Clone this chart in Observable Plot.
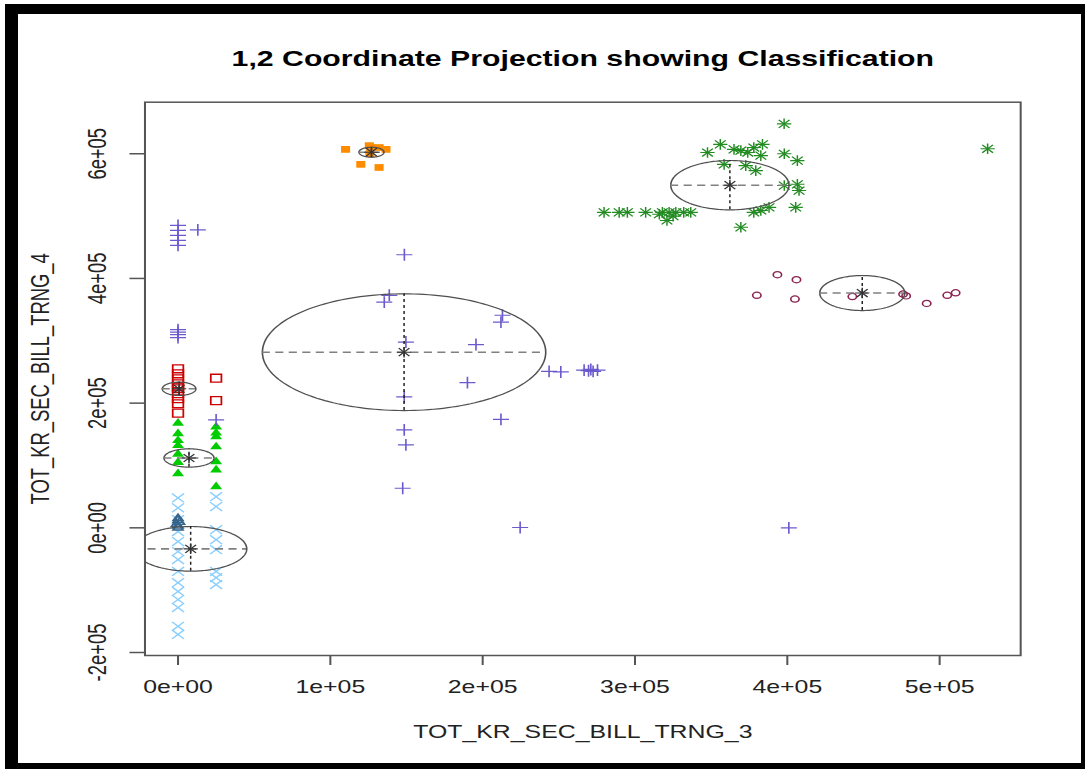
<!DOCTYPE html>
<html>
<head>
<meta charset="utf-8">
<script src="https://cdn.jsdelivr.net/npm/d3@7"></script>
<script src="https://cdn.jsdelivr.net/npm/@observablehq/plot@0.6"></script>
<style>
  html, body { margin: 0; padding: 0; background: #fff; }
  #wrap { position: relative; width: 1086px; height: 769px; overflow: hidden; background: #fff; }
  #border { position: absolute; left: 5px; top: 4px; width: 1080px; height: 765px; box-sizing: border-box;
            border-style: solid; border-color: #000; border-width: 10px 4px 6px 13px; pointer-events: none; }
</style>
</head>
<body>
<div id="wrap"><div id="chart"></div><div id="border"></div></div>
<script>
// ---------- text ----------
const mainTitle = "1,2 Coordinate Projection showing Classification";
const xTitle = "TOT_KR_SEC_BILL_TRNG_3";
const yTitle = "TOT_KR_SEC_BILL_TRNG_4";
const xTicks = [0, 100000, 200000, 300000, 400000, 500000];
const xTickLabels = ["0e+00", "1e+05", "2e+05", "3e+05", "4e+05", "5e+05"];
const yTicks = [-200000, 0, 200000, 400000, 600000];
const yTickLabels = ["-2e+05", "0e+00", "2e+05", "4e+05", "6e+05"];

// ---------- data (per classification group) ----------
// group 2: red3 open squares
const redX = [0, 0, 0, 0, 0, 0, 0, 0, 0, 0, 25000, 25000];
const redY = [255000, 247000, 239000, 231000, 226000, 223000, 215000, 207000, 199000, 184000, 240000, 204000];
// group 3: green3 filled triangles
const greenX = [0, 0, 0, 0, 0, 0, 0, 25000, 25000, 25000, 25000, 25000, 25000, 25000];
const greenY = [168000, 151000, 140000, 132000, 118000, 105000, 87000, 162000, 152000, 146000, 130000, 106000, 93000, 66000];
// group 4: slateblue plus
const slateX = [0, 0, 0, 0, 0, 13000, 0, 0, 0, 0, 25000, 148600, 138700, 135400, 213000, 212000, 149600, 195600,
                243600, 251300, 266600, 269500, 271000, 272500, 275400, 190000, 148500, 212000, 148500, 149600,
                147500, 224600, 401000];
const slateY = [485000, 477000, 469000, 461000, 453000, 478000, 318000, 314000, 310000, 305000, 173000, 438000,
                373000, 362000, 341000, 330000, 298000, 294000, 251000, 250000, 253000, 252000, 254000, 251000,
                253000, 233000, 210000, 174000, 157000, 133000, 63500, 500, 0];
// group 5: darkorange filled squares
const orangeX = [110000, 125600, 126600, 132000, 136500, 120000, 132000, 126000];
const orangeY = [607000, 613000, 610000, 610000, 607000, 583000, 578000, 600000];
// group 6: skyblue1 crosses
const skyX = [0, 0, 0, 0, 0, 0, 0, 0, 0, 0, 0, 0, 0, 0, 25000, 25000, 25000, 25000, 25000, 25000, 25000, 25000];
const skyY = [48000, 32000, 13000, -6000, -22000, -38000, -51000, -70000, -88000, -102000, -115000, -128000,
              -158000, -171000, 50000, 34000, -3000, -19000, -35000, -70000, -80000, -91000];
// group 7: violetred4 open circles
const violetX = [380000, 393500, 406000, 405000, 442700, 476000, 478000, 491500, 505000, 510500];
const violetY = [373000, 406000, 398000, 367000, 371000, 375000, 372000, 360000, 373000, 377000];
// group 8: forestgreen asterisks
const forestX = [397900, 347600, 356000, 365000, 369500, 374000, 378000, 383700, 382600, 358500, 372700, 379300,
                 398000, 406600, 398000, 406600, 407700, 405500, 388000, 382600, 378000, 369500, 279700, 289600,
                 295000, 307000, 318000, 322400, 326800, 332000, 336600, 321000, 316000, 325000, 531500];
const forestY = [648000, 602000, 615000, 607000, 605000, 602000, 610000, 615000, 597000, 583000, 581000, 573000,
                 600000, 589000, 549000, 551000, 541000, 514000, 514000, 509000, 506000, 482000, 506000, 506000,
                 506000, 506000, 506000, 506000, 506000, 506000, 506000, 493000, 503000, 500000, 608000];
// group 9: steelblue4 open triangles
const steelX = [0, 0, -1000, 1000, 0, 0];
const steelY = [0, 3000, 6000, 9000, 12000, 15000];

// ---------- fitted components (mean and axis half-lengths) ----------
const compName = ["slateblue", "darkorange", "forestgreen", "violetred4", "red3", "green3", "skyblue1"];
const compCX = [148400, 127000, 362300, 449200, 700, 7200, 8300];
const compCY = [281700, 602500, 549600, 376600, 223000, 112000, -33700];
const compRX = [93000, 8200, 38800, 27900, 11000, 16400, 36800];
const compRY = [93600, 8000, 39600, 28100, 10700, 14700, 35800];

// ---------- build ----------
const W = 804, H = 769, OUT_W = 1086;
const S = OUT_W / W;
const pts = (xs, ys) => xs.map((x, i) => ({x, y: ys[i]}));
const comps = compName.map((n, i) => ({n, cx: compCX[i], cy: compCY[i], rx: compRX[i], ry: compRY[i]}));
const ellipsePts = comps.flatMap(c => d3.range(0, 361, 2).map(a => ({
  n: c.n,
  x: c.cx + c.rx * Math.cos(a * Math.PI / 180),
  y: c.cy + c.ry * Math.sin(a * Math.PI / 180)
})));

const font = "'Liberation Sans', Arial, Helvetica, sans-serif";
const txt = "#222";

const svg = Plot.plot({
  width: W,
  height: H,
  marginLeft: 144.3 / S,
  marginRight: W - 1020 / S,
  marginTop: 101.7,
  marginBottom: 114,
  x: {domain: [-21700, 553200]},
  y: {domain: [-204800, 682700]},
  style: {fontFamily: font, background: "white", color: txt},
  marks: [
    Plot.axisX({ticks: xTicks, tickSize: 10, tickFormat: () => "", stroke: "#555", strokeWidth: 1.5, label: null}),
    Plot.axisY({ticks: yTicks, tickSize: 11, tickFormat: () => "", stroke: "#555", strokeWidth: 1.5, label: null}),
    Plot.text(xTicks, {x: d => d, text: (d, i) => xTickLabels[i], frameAnchor: "bottom", dy: 32,
      textAnchor: "middle", lineAnchor: "middle", fontSize: 18.4, fill: txt}),
    Plot.text(yTicks, {y: d => d, text: (d, i) => yTickLabels[i], frameAnchor: "left", dx: -35, rotate: -90,
      textAnchor: "middle", lineAnchor: "middle", fontSize: 18.4, fill: txt}),
    Plot.text([xTitle], {text: d => d, frameAnchor: "bottom", dy: 77, textAnchor: "middle", lineAnchor: "middle",
      fontSize: 18.4, fill: txt}),
    Plot.text([yTitle], {text: d => d, frameAnchor: "left", dx: -77, rotate: -90, textAnchor: "middle",
      lineAnchor: "middle", fontSize: 18.4, fill: txt}),
    Plot.text([mainTitle], {text: d => d, frameAnchor: "top", dy: -43, textAnchor: "middle", lineAnchor: "middle",
      fontSize: 22.4, fontWeight: "bold", fill: "#000"}),

    // points
    Plot.dot(pts(skyX, skyY), {x: "x", y: "y", symbol: "times", r: 4.1, stroke: "#87CEFF", fill: "none", strokeWidth: 1.2}),
    Plot.dot(pts(steelX, steelY), {x: "x", y: "y", symbol: "triangle2", r: 3.6, stroke: "#36648B", fill: "none", strokeWidth: 1.3}),
    Plot.dot(pts(greenX, greenY), {x: "x", y: "y", symbol: "triangle", r: 3.3, fill: "#00CD00", stroke: "none"}),
    Plot.dot(pts(redX, redY), {x: "x", y: "y", symbol: "square2", r: 5, stroke: "#CD0000", fill: "none", strokeWidth: 1.3}),
    Plot.dot(pts(slateX, slateY), {x: "x", y: "y", symbol: "plus", r: 3.9, stroke: "#6A5ACD", fill: "none", strokeWidth: 1.2}),
    Plot.dot(pts(orangeX, orangeY), {x: "x", y: "y", symbol: "square", r: 3.8, fill: "#FF8C00", stroke: "none"}),
    Plot.dot(pts(violetX, violetY), {x: "x", y: "y", symbol: "circle", r: 3.1, stroke: "#8B2252", fill: "none", strokeWidth: 1.2}),
    Plot.dot(pts(forestX, forestY), {x: "x", y: "y", symbol: "plus", r: 3.5, stroke: "#228B22", fill: "none", strokeWidth: 1.1}),
    Plot.dot(pts(forestX, forestY), {x: "x", y: "y", symbol: "times", r: 3.7, stroke: "#228B22", fill: "none", strokeWidth: 1.1}),

    // component ellipses with axes and means
    Plot.line(ellipsePts, {x: "x", y: "y", z: "n", stroke: "#505050", strokeWidth: 1.2, clip: true}),
    Plot.ruleY(comps, {y: "cy", x1: d => d.cx - d.rx, x2: d => d.cx + d.rx, stroke: "#808080", strokeWidth: 1.6, strokeDasharray: "6,4", clip: true}),
    Plot.ruleX(comps, {x: "cx", y1: d => d.cy - d.ry, y2: d => d.cy + d.ry, stroke: "#222", strokeWidth: 1.1, strokeDasharray: "3,3", clip: true}),
    Plot.dot(comps, {x: "cx", y: "cy", symbol: "plus", r: 3.5, stroke: "#333", fill: "none", strokeWidth: 1.1}),
    Plot.dot(comps, {x: "cx", y: "cy", symbol: "times", r: 3.7, stroke: "#333", fill: "none", strokeWidth: 1.1}),

    Plot.frame({stroke: "#555", strokeWidth: 1.5})
  ]
});

svg.setAttribute("width", OUT_W);
svg.setAttribute("height", H);
svg.setAttribute("viewBox", `0 0 ${W} ${H}`);
svg.setAttribute("preserveAspectRatio", "none");
svg.style.width = OUT_W + "px";
svg.style.height = H + "px";
svg.style.maxWidth = "none";
document.getElementById("chart").appendChild(svg);
</script>
</body>
</html>
